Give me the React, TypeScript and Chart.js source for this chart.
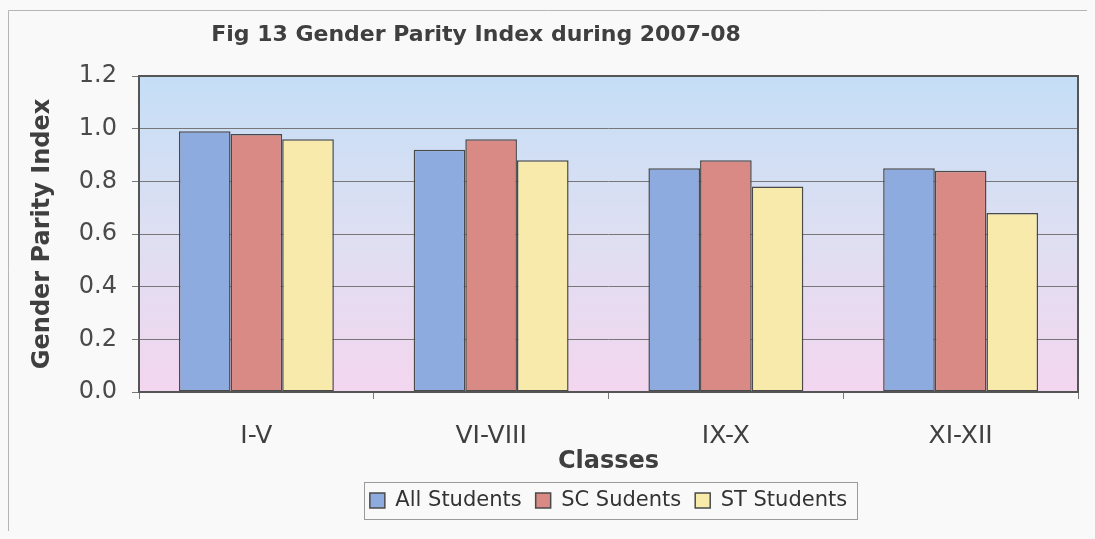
import React, { useEffect, useRef } from "react";
import { Chart, registerables } from "chart.js";

Chart.register(...registerables);

const categories = ["I-V", "VI-VIII", "IX-X", "XI-XII"];
const seriesNames = ["All Students", "SC Sudents", "ST Students"];
const allStudents = [0.99, 0.92, 0.85, 0.85];
const scStudents = [0.98, 0.96, 0.88, 0.84];
const stStudents = [0.96, 0.88, 0.78, 0.68];
const yTicks = [0, 0.2, 0.4, 0.6, 0.8, 1.0, 1.2];
const titleText = "Fig 13 Gender Parity Index during 2007-08";
const xTitle = "Classes";
const yTitle = "Gender Parity Index";

const FONT = "'DejaVu Sans', sans-serif";
const TEXT = "#3f3f3f";
const EDGE = "#4a4a4a";
const PAGE = "#f9f9f9";

export default function App() {
  const ref = useRef<HTMLCanvasElement>(null);

  useEffect(() => {
    const canvas = ref.current;
    if (!canvas) return;
    document.body.style.background = PAGE;

    const decor = {
      id: "decor",
      beforeDraw(chart: any) {
        const { ctx, chartArea: a, width, height } = chart;
        ctx.save();
        ctx.fillStyle = PAGE;
        ctx.fillRect(0, 0, width, height);
        ctx.strokeStyle = "#b5b5b5";
        ctx.lineWidth = 1;
        ctx.beginPath();
        ctx.moveTo(0.5, height);
        ctx.lineTo(0.5, 2.5);
        ctx.lineTo(width, 2.5);
        ctx.stroke();
        const g = ctx.createLinearGradient(0, a.top, 0, a.bottom);
        g.addColorStop(0, "#c4def6");
        g.addColorStop(0.5, "#dedff2");
        g.addColorStop(1, "#f3d6ef");
        ctx.fillStyle = g;
        ctx.fillRect(a.left, a.top, a.right - a.left, a.bottom - a.top);
        ctx.restore();
      },
      afterDraw(chart: any) {
        const { ctx, chartArea: a } = chart;
        ctx.save();
        ctx.strokeStyle = "#555";
        ctx.lineWidth = 2;
        ctx.strokeRect(a.left, a.top, a.right - a.left, a.bottom - a.top);
        ctx.fillStyle = TEXT;
        ctx.font = `bold 22px ${FONT}`;
        ctx.textAlign = "center";
        ctx.textBaseline = "middle";
        ctx.fillText(titleText, 468, 27);
        const lg = chart.legend;
        if (lg && lg.legendHitBoxes && lg.legendHitBoxes.length) {
          let l = Infinity, r = -Infinity, t = Infinity, b = -Infinity;
          lg.legendHitBoxes.forEach((h: any) => {
            l = Math.min(l, h.left);
            r = Math.max(r, h.left + h.width);
            t = Math.min(t, h.top);
            b = Math.max(b, h.top + h.height);
          });
          ctx.strokeStyle = "#9a9a9a";
          ctx.lineWidth = 1;
          ctx.strokeRect(Math.round(l - 6) + 0.5, Math.round(t - 8) + 0.5, Math.round(r - l + 16), Math.round(b - t + 16));
        }
        ctx.restore();
      },
    };

    const chart = new Chart(canvas, {
      type: "bar",
      data: {
        labels: categories,
        datasets: [
          { label: seriesNames[0], data: allStudents, backgroundColor: "#8eabdf" },
          { label: seriesNames[1], data: scStudents, backgroundColor: "#d98a84" },
          { label: seriesNames[2], data: stStudents, backgroundColor: "#f8eaab" },
        ].map((d) => ({
          ...d,
          borderColor: EDGE,
          borderWidth: 1.5,
          borderSkipped: false,
          barPercentage: 1,
          categoryPercentage: 0.66,
        })),
      },
      options: {
        animation: false,
        responsive: true,
        maintainAspectRatio: false,
        layout: { padding: { top: 68, right: 9, bottom: 10, left: 0 } },
        plugins: {
          title: { display: false },
          tooltip: { enabled: false },
          legend: {
            position: "bottom",
            fullSize: false,
            labels: {
              font: { family: FONT, size: 21 },
              color: "#333",
              boxWidth: 15,
              boxHeight: 15,
              padding: 14,
            },
          },
        },
        scales: {
          x: {
            ticks: { font: { family: FONT, size: 25 }, color: TEXT, padding: 22 },
            grid: {
              display: true,
              drawOnChartArea: false,
              drawTicks: true,
              tickLength: 7,
              color: "#777",
              offset: true,
            },
            border: { display: false },
            title: {
              display: true,
              text: xTitle,
              font: { family: FONT, size: 24, weight: "bold" },
              color: TEXT,
              padding: { top: 0, bottom: 0 },
            },
            afterFit(scale: any) {
              scale.height = 84;
            },
          },
          y: {
            min: 0,
            max: 1.2,
            afterBuildTicks(scale: any) {
              scale.ticks = yTicks.map((v) => ({ value: v }));
            },
            ticks: {
              font: { family: FONT, size: 24 },
              color: "#4a4a4a",
              padding: 15,
              callback: (v: any) => Number(v).toFixed(1),
            },
            grid: { color: "#777", lineWidth: 1, tickLength: 7, drawTicks: true },
            border: { display: false },
            title: {
              display: true,
              text: yTitle,
              font: { family: FONT, size: 24, weight: "bold" },
              color: TEXT,
              padding: { top: 20, bottom: 0 },
            },
            afterFit(scale: any) {
              scale.width = 131;
            },
          },
        },
      },
      plugins: [decor],
    });

    return () => chart.destroy();
  }, []);

  return (
    <div style={{ width: 1079, height: 523, position: "relative" }}>
      <canvas ref={ref} />
    </div>
  );
}
